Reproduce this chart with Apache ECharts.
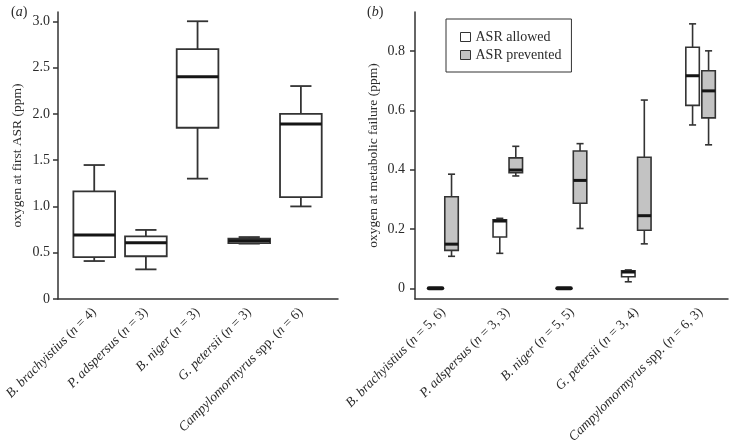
<!DOCTYPE html>
<html>
<head>
<meta charset="utf-8">
<script src="https://cdn.jsdelivr.net/npm/echarts@6/dist/echarts.min.js"></script>
<style>
html,body{margin:0;padding:0;background:#fff;}
#chart{width:729px;height:447px;}
</style>
</head>
<body>
<div id="chart"></div>
<script>
// ---- data ----
const species = ['B. brachyistius', 'P. adspersus', 'B. niger', 'G. petersii', 'Campylomormyrus spp.'];
const nPanelA = ['4', '3', '3', '3', '6'];
const nPanelB = ['5, 6', '3, 3', '5, 5', '3, 4', '6, 3'];
const ticksA = [0, 0.5, 1.0, 1.5, 2.0, 2.5, 3.0];
const ticksB = [0, 0.2, 0.4, 0.6, 0.8];
// each row: [low whisker, Q1, median, Q3, high whisker]
const firstASR = [
  [0.41, 0.453, 0.69, 1.163, 1.447],
  [0.32, 0.462, 0.607, 0.677, 0.746],
  [1.30, 1.85, 2.40, 2.70, 3.00],
  [0.598, 0.604, 0.629, 0.651, 0.669],
  [1.00, 1.10, 1.89, 2.00, 2.30]
];
const asrAllowed = [
  [0, 0, 0, 0, 0],
  [0.118, 0.173, 0.227, 0.231, 0.236],
  [0, 0, 0, 0, 0],
  [0.022, 0.039, 0.055, 0.059, 0.062],
  [0.551, 0.617, 0.717, 0.813, 0.892]
];
const asrPrevented = [
  [0.108, 0.128, 0.149, 0.309, 0.385],
  [0.379, 0.390, 0.399, 0.440, 0.479],
  [0.202, 0.287, 0.364, 0.463, 0.488],
  [0.150, 0.196, 0.245, 0.442, 0.635],
  [0.484, 0.575, 0.666, 0.734, 0.801]
];

// ---- styling helpers ----
const FONT = '"Liberation Serif", "Times New Roman", "DejaVu Serif", serif';
const TXT = '#2b2b2b';
const LINE = '#333';

function toRows(arr) { return arr.map((r, i) => [i].concat(r)); }

function boxRenderer(offsetFrac, widthFrac, capFrac, fill, boxLW, medLW) {
  return function (params, api) {
    const idx = api.value(0);
    const lo = api.value(1), q1 = api.value(2), med = api.value(3), q3 = api.value(4), hi = api.value(5);
    const band = api.size([1, 0])[0];
    const cx = api.coord([idx, med])[0] + offsetFrac * band;
    const w = band * widthFrac, cw = band * capFrac;
    const yLo = api.coord([idx, lo])[1], yQ1 = api.coord([idx, q1])[1];
    const yMed = api.coord([idx, med])[1], yQ3 = api.coord([idx, q3])[1];
    const yHi = api.coord([idx, hi])[1];
    const ls = { stroke: LINE, lineWidth: boxLW, fill: null };
    const children = [];
    if (hi > q3) {
      children.push({ type: 'line', shape: { x1: cx, y1: yQ3, x2: cx, y2: yHi }, style: ls });
      children.push({ type: 'line', shape: { x1: cx - cw / 2, y1: yHi, x2: cx + cw / 2, y2: yHi }, style: ls });
    }
    if (lo < q1) {
      children.push({ type: 'line', shape: { x1: cx, y1: yQ1, x2: cx, y2: yLo }, style: ls });
      children.push({ type: 'line', shape: { x1: cx - cw / 2, y1: yLo, x2: cx + cw / 2, y2: yLo }, style: ls });
    }
    if (q3 > q1) {
      children.push({ type: 'rect', shape: { x: cx - w / 2, y: yQ3, width: w, height: yQ1 - yQ3 },
        style: { fill: fill, stroke: LINE, lineWidth: boxLW } });
    }
    const flat = !(q3 > q1);
    children.push({ type: 'line', shape: { x1: cx - w / 2, y1: yMed, x2: cx + w / 2, y2: yMed },
      style: { stroke: '#151515', lineWidth: flat ? 4 : medLW, lineCap: flat ? 'round' : 'butt' } });
    return { type: 'group', children: children };
  };
}

function catLabel(name, n) {
  let sp;
  if (name.endsWith(' spp.')) {
    sp = '{i|' + name.slice(0, -5) + '}{r| spp.}';
  } else {
    sp = '{i|' + name + '}';
  }
  return sp + '{r| (}{i|n}{r| = ' + n + ')}';
}

const richLab = {
  i: { fontFamily: FONT, fontSize: 13.5, fontStyle: 'italic', color: TXT },
  r: { fontFamily: FONT, fontSize: 13.5, color: TXT }
};
const richTitle = {
  r: { fontFamily: FONT, fontSize: 14, fontWeight: 'normal', color: TXT },
  i: { fontFamily: FONT, fontSize: 14, fontWeight: 'normal', fontStyle: 'italic', color: TXT }
};

const TOP = 12, H = 287;

const option = {
  animation: false,
  backgroundColor: '#fff',
  title: [
    { text: '{r|(}{i|a}{r|)}', left: 6, top: 0,
      textStyle: { fontWeight: 'normal', rich: richTitle } },
    { text: '{r|(}{i|b}{r|)}', left: 362, top: 0,
      textStyle: { fontWeight: 'normal', rich: richTitle } }
  ],
  legend: {
    orient: 'vertical',
    left: 446, top: 19,
    padding: [11, 10, 10, 14],
    itemWidth: 10, itemHeight: 9, itemGap: 4,
    borderColor: LINE, borderWidth: 1,
    icon: 'rect',
    textStyle: { fontFamily: FONT, fontSize: 14, color: TXT },
    data: [
      { name: 'ASR allowed', itemStyle: { color: '#ffffff', borderColor: LINE, borderWidth: 1 } },
      { name: 'ASR prevented', itemStyle: { color: '#c3c3c3', borderColor: LINE, borderWidth: 1 } }
    ]
  },
  grid: [
    { left: 58, top: TOP, width: 280, height: H, outerBoundsMode: 'none' },
    { left: 68.4, top: TOP, width: 258.3, height: H, outerBoundsMode: 'none' },
    { left: 415, top: TOP, width: 313, height: H, outerBoundsMode: 'none' },
    { left: 411.4, top: TOP, width: 321.3, height: H, outerBoundsMode: 'none' }
  ],
  xAxis: [
    { gridIndex: 0, type: 'value', min: 0, max: 1,
      axisLine: { show: true, onZero: false, lineStyle: { color: LINE, width: 1.5 } },
      axisTick: { show: false }, axisLabel: { show: false }, splitLine: { show: false } },
    { gridIndex: 1, type: 'category', data: species,
      axisLine: { show: false }, axisTick: { show: false }, splitLine: { show: false },
      axisLabel: { interval: 0, rotate: 45, margin: 11,
        formatter: (v, i) => catLabel(v, nPanelA[i]), rich: richLab } },
    { gridIndex: 2, type: 'value', min: 0, max: 1,
      axisLine: { show: true, onZero: false, lineStyle: { color: LINE, width: 1.5 } },
      axisTick: { show: false }, axisLabel: { show: false }, splitLine: { show: false } },
    { gridIndex: 3, type: 'category', data: species,
      axisLine: { show: false }, axisTick: { show: false }, splitLine: { show: false },
      axisLabel: { interval: 0, rotate: 45, margin: 11,
        formatter: (v, i) => catLabel(v, nPanelB[i]), rich: richLab } }
  ],
  yAxis: [
    { gridIndex: 0, type: 'value', min: 0, max: 3.1,
      axisLine: { show: true, onZero: false, lineStyle: { color: LINE, width: 1.5 } },
      axisTick: { show: true, length: 5, customValues: ticksA, lineStyle: { color: LINE, width: 1.5 } },
      axisLabel: { margin: 8, customValues: ticksA, fontFamily: FONT, fontSize: 14, color: TXT,
        formatter: v => (v === 0 ? '0' : v.toFixed(1)) },
      splitLine: { show: false },
      name: 'oxygen at first ASR (ppm)', nameLocation: 'middle', nameGap: 34,
      nameTextStyle: { fontFamily: FONT, fontSize: 13.5, color: TXT } },
    { gridIndex: 1, type: 'value', min: 0, max: 3.1, show: false },
    { gridIndex: 2, type: 'value', min: -0.036, max: 0.932,
      axisLine: { show: true, onZero: false, lineStyle: { color: LINE, width: 1.5 } },
      axisTick: { show: true, length: 5, customValues: ticksB, lineStyle: { color: LINE, width: 1.5 } },
      axisLabel: { margin: 10, customValues: ticksB, fontFamily: FONT, fontSize: 14, color: TXT,
        formatter: v => (v === 0 ? '0' : v.toFixed(1)) },
      splitLine: { show: false },
      name: 'oxygen at metabolic failure (ppm)', nameLocation: 'middle', nameGap: 35,
      nameTextStyle: { fontFamily: FONT, fontSize: 13.5, color: TXT } },
    { gridIndex: 3, type: 'value', min: -0.036, max: 0.932, show: false }
  ],
  series: [
    { type: 'custom', name: 'first ASR', xAxisIndex: 1, yAxisIndex: 1,
      encode: { x: 0, y: [1, 2, 3, 4, 5] },
      renderItem: boxRenderer(0, 0.807, 0.41, '#ffffff', 1.8, 3),
      data: toRows(firstASR) },
    { type: 'custom', name: 'ASR allowed', xAxisIndex: 3, yAxisIndex: 3,
      itemStyle: { color: '#ffffff', borderColor: LINE },
      encode: { x: 0, y: [1, 2, 3, 4, 5] },
      renderItem: boxRenderer(-0.1245, 0.21, 0.11, '#ffffff', 1.6, 3),
      data: toRows(asrAllowed) },
    { type: 'custom', name: 'ASR prevented', xAxisIndex: 3, yAxisIndex: 3,
      itemStyle: { color: '#c3c3c3', borderColor: LINE },
      encode: { x: 0, y: [1, 2, 3, 4, 5] },
      renderItem: boxRenderer(0.1245, 0.21, 0.11, '#c3c3c3', 1.6, 3),
      data: toRows(asrPrevented) }
  ]
};

const chart = echarts.init(document.getElementById('chart'), null, { renderer: 'canvas' });
chart.setOption(option);
</script>
</body>
</html>
